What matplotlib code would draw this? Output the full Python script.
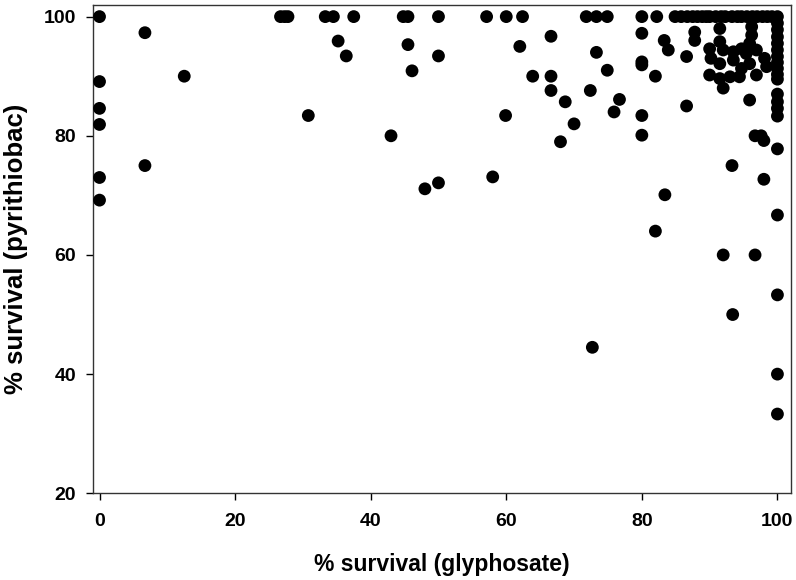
import matplotlib
matplotlib.use('Agg')
import matplotlib.pyplot as plt

# ---------- data ----------
# scattered points, left / middle of the plot
glyph_a = [0, 0, 0, 0, 0, 0,
           6.7, 6.7, 12.5,
           26.7, 27.3, 27.8, 30.8,
           33.3, 34.5, 35.2, 36.4, 37.5,
           43.0, 44.8, 45.5, 45.5, 46.1,
           48.0, 50.0, 50.0, 50.0,
           57.1, 58.0, 59.9, 60.0,
           62.0, 62.4, 63.9,
           66.6, 66.6, 66.6, 68.0, 68.7, 70.0,
           71.8, 72.4, 72.7, 73.3, 73.3, 74.9, 74.9, 75.9, 76.7]
pyri_a = [100, 89.1, 84.6, 81.9, 73.0, 69.2,
          97.3, 75.0, 90.0,
          100, 100, 100, 83.4,
          100, 100, 95.9, 93.4, 100,
          80.0, 100, 100, 95.3, 90.9,
          71.1, 72.1, 93.4, 100,
          100, 73.1, 83.4, 100,
          95.0, 100, 90.0,
          96.7, 90.0, 87.6, 79.0, 85.7, 82.0,
          100, 87.6, 44.5, 100, 94.0, 100, 91.0, 84.0, 86.1]

# points between 80 and 90 % glyphosate survival
glyph_b = [80, 80, 80, 80, 80, 80,
           82.0, 82.0, 82.2, 83.3, 83.9, 83.4,
           84.9, 86.6, 86.6]
pyri_b = [100, 97.2, 92.4, 91.9, 83.4, 80.1,
          90.0, 64.0, 100, 96.0, 94.4, 70.1,
          100, 93.3, 85.0]

# top row (100 % pyrithiobac survival)
glyph_top = [85.8, 86.7, 87.5, 88.2, 88.9, 89.5, 90.0, 90.9, 91.7,
             92.3, 93.3, 94.1, 94.7, 95.5, 96.3, 97.0, 97.8, 98.5, 99.2]
pyri_top = [100] * len(glyph_top)

# dense cluster upper right
glyph_c = [87.8, 87.8, 91.5, 96.2, 96.2, 95.9,
           90.0, 91.5, 92.0, 90.2, 91.5, 93.5, 94.7, 95.4, 93.5, 96.9,
           94.7, 95.9, 98.1, 98.4,
           90.0, 91.5, 93.0, 94.4, 92.0, 96.9,
           95.9, 96.7, 97.6, 98.0,
           93.3, 98.0, 92.0, 96.7, 93.4]
pyri_c = [97.4, 96.0, 98.0, 98.3, 96.9, 95.5,
          94.6, 95.8, 94.4, 93.0, 92.1, 94.1, 94.6, 93.8, 92.7, 94.4,
          91.3, 92.1, 93.0, 91.6,
          90.2, 89.6, 89.9, 89.9, 88.0, 90.2,
          86.0, 80.0, 80.0, 79.2,
          75.0, 72.7, 60.0, 60.0, 50.0]

# column at 100 % glyphosate survival
pyri_full = [100, 98.9, 97.8, 96.6, 95.5, 94.4, 93.3, 92.3, 91.3, 90.3,
             89.5, 87.0, 85.7, 84.6, 83.3, 77.8, 66.7, 53.3, 40.0, 33.3]
glyph_full = [100] * len(pyri_full)

glyphosate = glyph_a + glyph_b + glyph_top + glyph_c + glyph_full
pyrithiobac = pyri_a + pyri_b + pyri_top + pyri_c + pyri_full

x_ticks = [0, 20, 40, 60, 80, 100]
y_ticks = [20, 40, 60, 80, 100]

# ---------- plot ----------
plt.rcParams['font.family'] = ['Liberation Sans', 'DejaVu Sans']
plt.rcParams['font.weight'] = 'bold'

fig = plt.figure(figsize=(7.96, 5.8), dpi=100)
ax = fig.add_axes([0.1165, 0.1495, 0.8772, 0.8424])

ax.scatter(glyphosate, pyrithiobac, s=85, c='black', edgecolors='none', zorder=3)

ax.set_xlim(-1, 102)
ax.set_ylim(20, 102)
ax.set_xticks(x_ticks)
ax.set_yticks(y_ticks)
ax.tick_params(axis='both', direction='out', length=5, width=1, labelsize=14,
               top=False, right=False)
ax.tick_params(axis='x', pad=9)
ax.tick_params(axis='y', pad=7)
for lab in ax.get_xticklabels() + ax.get_yticklabels():
    lab.set_fontweight('bold')
for sp in ax.spines.values():
    sp.set_linewidth(1)
    sp.set_color('#333333')

ax.set_xlabel('% survival (glyphosate)', fontsize=16.5, fontweight='bold', labelpad=17)
ax.set_ylabel('% survival (pyrithiobac)', fontsize=18.5, fontweight='bold', labelpad=11)

fig.savefig('out.png', dpi=100)
